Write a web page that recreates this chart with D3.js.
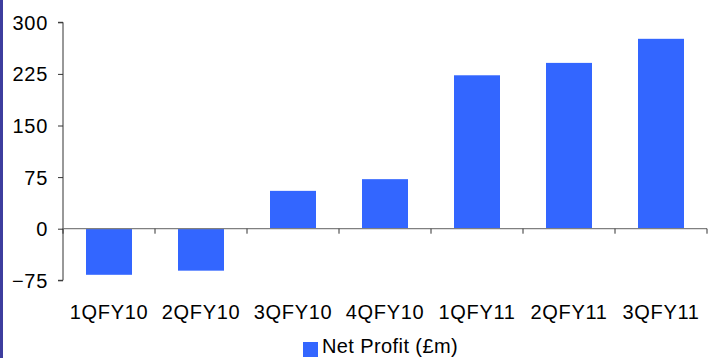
<!DOCTYPE html>
<html>
<head>
<meta charset="utf-8">
<script src="https://cdn.jsdelivr.net/npm/d3@7"></script>
<style>
  html, body { margin: 0; padding: 0; background: #fff; }
  svg { display: block; }
  text { font-family: "Liberation Sans", Arial, sans-serif; font-size: 20px; letter-spacing: 0.7px; fill: #000; }
</style>
</head>
<body>
<script>
// Quarterly net profit, £m
const quarters = ["1QFY10", "2QFY10", "3QFY10", "4QFY10", "1QFY11", "2QFY11", "3QFY11"];
const netProfit = [-67, -61, 55, 72, 223, 241, 276];
const yTicks = [-75, 0, 75, 150, 225, 300];
const seriesName = "Net Profit (£m)";

const W = 720, H = 358;
const svg = d3.select("body").append("svg").attr("width", W).attr("height", H);

// frame strip on the left edge
svg.append("rect").attr("x", 0).attr("y", 0).attr("width", 3).attr("height", H).attr("fill", "#3d3d9e");

const x0 = 63, x1 = 707;
const y = d3.scaleLinear().domain([-75, 300]).range([280.3, 22.3]);
const x = d3.scaleBand().domain(quarters).range([x0, x1]).paddingInner(0.5).paddingOuter(0.25);

// bars
svg.append("g").selectAll("rect").data(quarters).join("rect")
  .attr("x", d => x(d))
  .attr("width", x.bandwidth())
  .attr("y", (d, i) => y(Math.max(0, netProfit[i])))
  .attr("height", (d, i) => Math.abs(y(netProfit[i]) - y(0)))
  .attr("fill", "#3366ff");

// y axis
const yAxis = svg.append("g").attr("transform", `translate(${x0},0)`)
  .call(d3.axisLeft(y).tickValues(yTicks).tickSize(5).tickPadding(10));
yAxis.select(".domain").attr("stroke", "#333").attr("d", `M-5,${y(-75)}H0V${y(300)}H-5`);
yAxis.selectAll(".tick line").attr("stroke", "#333");
yAxis.selectAll(".tick text").attr("dy", "0.35em").style("font-size", "20px");

// category axis along zero
const bandStep = (x1 - x0) / quarters.length;
const xAxisG = svg.append("g");
xAxisG.append("line").attr("x1", x0).attr("x2", x1).attr("y1", y(0)).attr("y2", y(0))
  .attr("stroke", "#808080").attr("stroke-width", 1.2);
xAxisG.selectAll("line.tk").data(d3.range(quarters.length + 1)).join("line")
  .attr("class", "tk")
  .attr("x1", i => x0 + i * bandStep).attr("x2", i => x0 + i * bandStep)
  .attr("y1", y(0)).attr("y2", y(0) + 5)
  .attr("stroke", "#333");

// category labels
svg.append("g").selectAll("text").data(quarters).join("text")
  .attr("x", d => x(d) + x.bandwidth() / 2)
  .attr("y", 319)
  .attr("text-anchor", "middle")
  .text(d => d);

// legend
const leg = svg.append("g");
leg.append("rect").attr("x", 303).attr("y", 342).attr("width", 15).attr("height", 15).attr("fill", "#3366ff");
leg.append("text").attr("x", 322).attr("y", 353).style("letter-spacing", "0.4px").text(seriesName);
</script>
</body>
</html>
